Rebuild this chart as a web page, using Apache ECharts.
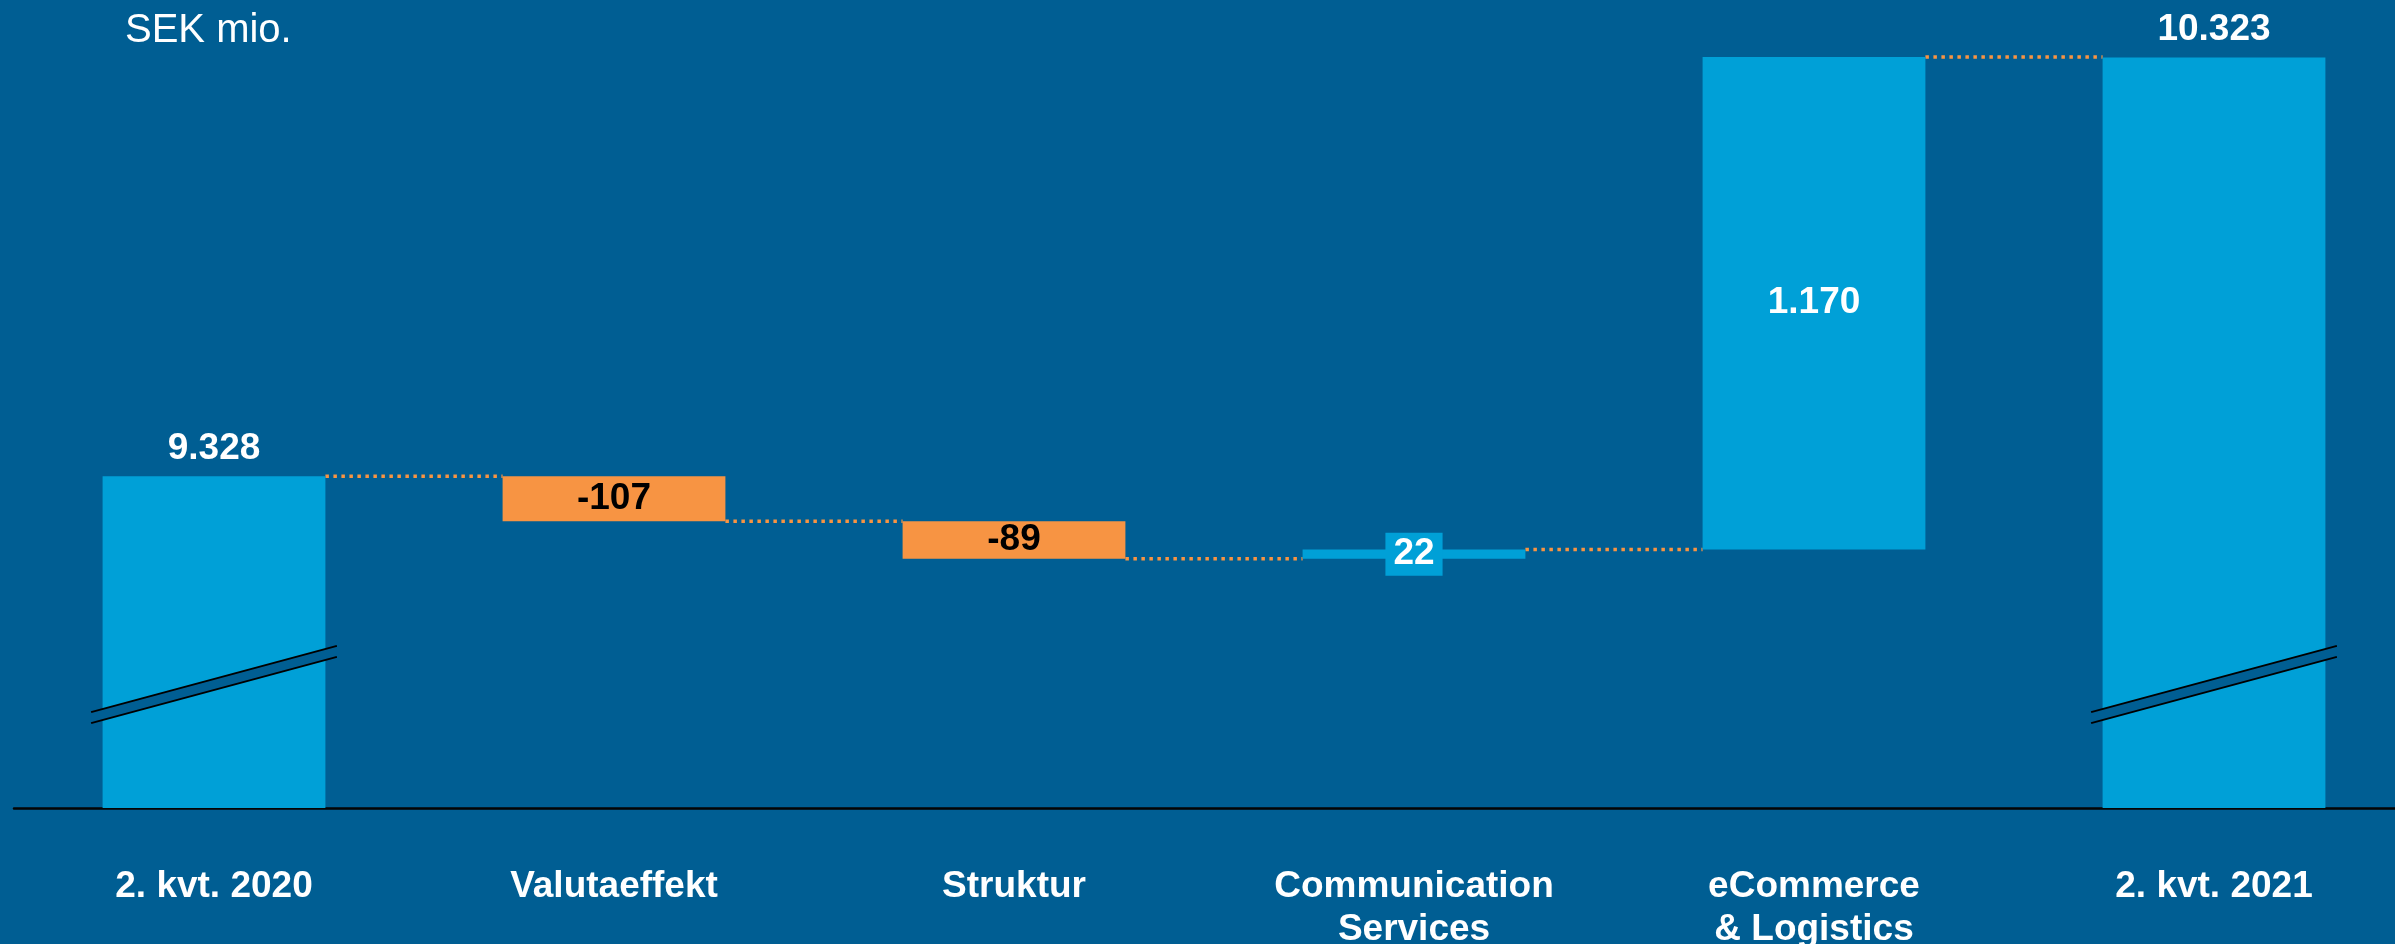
<!DOCTYPE html>
<html>
<head>
<meta charset="utf-8">
<script src="https://cdn.jsdelivr.net/npm/echarts@6/dist/echarts.min.js"></script>
<style>
html,body{margin:0;padding:0;background:#005e93;overflow:hidden;}
#c{width:2395px;height:944px;}
</style>
</head>
<body>
<div id="c"></div>
<script>
// ---- data ----
const categories = ['2. kvt. 2020', 'Valutaeffekt', 'Struktur', 'Communication\nServices', 'eCommerce\n& Logistics', '2. kvt. 2021'];
const values = [9328, -107, -89, 22, 1170, 10323];
const isTotal = [true, false, false, false, false, true];
const unitLabel = 'SEK mio.';
const axisMin = 8540;   // truncated value axis (broken bars)
const axisMax = 10400;

// ---- styles ----
const BG = '#005e93';
const BLUE = '#00a0d7';
const ORANGE = '#f79443';
const FONT = '"Liberation Sans", Arial, sans-serif';
const BAR_RATIO = 0.557;

function fmt(v) {
  const s = Math.abs(v).toString().replace(/\B(?=(\d{3})+(?!\d))/g, '.');
  return (v < 0 ? '-' : '') + s;
}

// waterfall computation
const bases = [], visible = [], levels = [];
let run = 0;
values.forEach((v, i) => {
  if (isTotal[i]) { bases.push(0); visible.push(v); run = v; }
  else {
    const next = run + v;
    bases.push(Math.min(run, next));
    visible.push(Math.abs(v));
    run = next;
  }
  levels.push(run);
});

const valueData = values.map((v, i) => {
  const item = { value: visible[i], itemStyle: { color: v < 0 ? ORANGE : BLUE } };
  const lbl = { show: true, formatter: fmt(v), fontFamily: FONT, fontWeight: 'bold', fontSize: 37 };
  if (isTotal[i]) {
    Object.assign(lbl, { position: 'top', color: '#fff', distance: 9 });
  } else if (v < 0) {
    Object.assign(lbl, { position: 'inside', color: '#000' });
  } else if (visible[i] < 100) {
    Object.assign(lbl, { position: 'inside', color: '#fff', backgroundColor: BLUE, padding: [3, 8, 3, 8], lineHeight: 37 });
  } else {
    Object.assign(lbl, { position: 'inside', color: '#fff' });
  }
  item.label = lbl;
  return item;
});

// connector data: from bar i to bar i+1 at level after bar i
const connData = levels.slice(0, -1).map((lv, i) => [i, lv]);
const breakData = categories.map((c, i) => i).filter(i => isTotal[i]).map(i => [i, axisMin]);

const chart = echarts.init(document.getElementById('c'), null, { renderer: 'canvas' });
chart.setOption({
  backgroundColor: BG,
  animation: false,
  grid: { left: 14, top: 25, width: 2400, height: 783, containLabel: false, outerBoundsMode: 'none' },
  graphic: [{
    type: 'text', left: 125, top: 11,
    style: { text: unitLabel, fill: '#fff', font: '40px ' + FONT }
  }],
  xAxis: {
    type: 'category', data: categories,
    axisTick: { show: false },
    axisLine: { lineStyle: { color: '#050505', width: 2.5 } },
    axisLabel: { color: '#fff', fontFamily: FONT, fontWeight: 'bold', fontSize: 37, lineHeight: 43, margin: 57, interval: 0 }
  },
  yAxis: { type: 'value', min: axisMin, max: axisMax, show: false, splitLine: { show: false } },
  series: [
    { type: 'bar', stack: 'w', barWidth: (BAR_RATIO * 100) + '%', data: bases, itemStyle: { color: 'rgba(0,0,0,0)' }, silent: true },
    { type: 'bar', stack: 'w', barWidth: (BAR_RATIO * 100) + '%', data: valueData },
    {
      type: 'custom', z: 1, data: connData, encode: { x: 0, y: 1 },
      renderItem: function (params, api) {
        const i = api.value(0), lv = api.value(1);
        const p1 = api.coord([i, lv]), p2 = api.coord([i + 1, lv]);
        const hw = api.size([1, 0])[0] * BAR_RATIO / 2;
        return { type: 'line', shape: { x1: p1[0] + hw, y1: p1[1], x2: p2[0] - hw, y2: p2[1] },
          style: { stroke: ORANGE, lineWidth: 3.5, lineDash: [3.5, 4.5] } };
      }
    },
    {
      type: 'custom', z: 5, data: breakData, encode: { x: 0, y: 1 },
      renderItem: function (params, api) {
        const p = api.coord([api.value(0), api.value(1)]);
        const hw = api.size([1, 0])[0] * BAR_RATIO / 2 + 11.5;
        const cx = p[0], cy = p[1] - 123.5;
        const rise = 66 * hw / 122.5 / 2;
        const g = 5.5;
        const L = cx - hw, R = cx + hw;
        return { type: 'group', children: [
          { type: 'polygon', shape: { points: [[L, cy + rise - g], [R, cy - rise - g], [R, cy - rise + g], [L, cy + rise + g]] }, style: { fill: BG } },
          { type: 'line', shape: { x1: L, y1: cy + rise - g, x2: R, y2: cy - rise - g }, style: { stroke: '#000', lineWidth: 2 } },
          { type: 'line', shape: { x1: L, y1: cy + rise + g, x2: R, y2: cy - rise + g }, style: { stroke: '#000', lineWidth: 2 } }
        ] };
      }
    }
  ]
});
</script>
</body>
</html>
